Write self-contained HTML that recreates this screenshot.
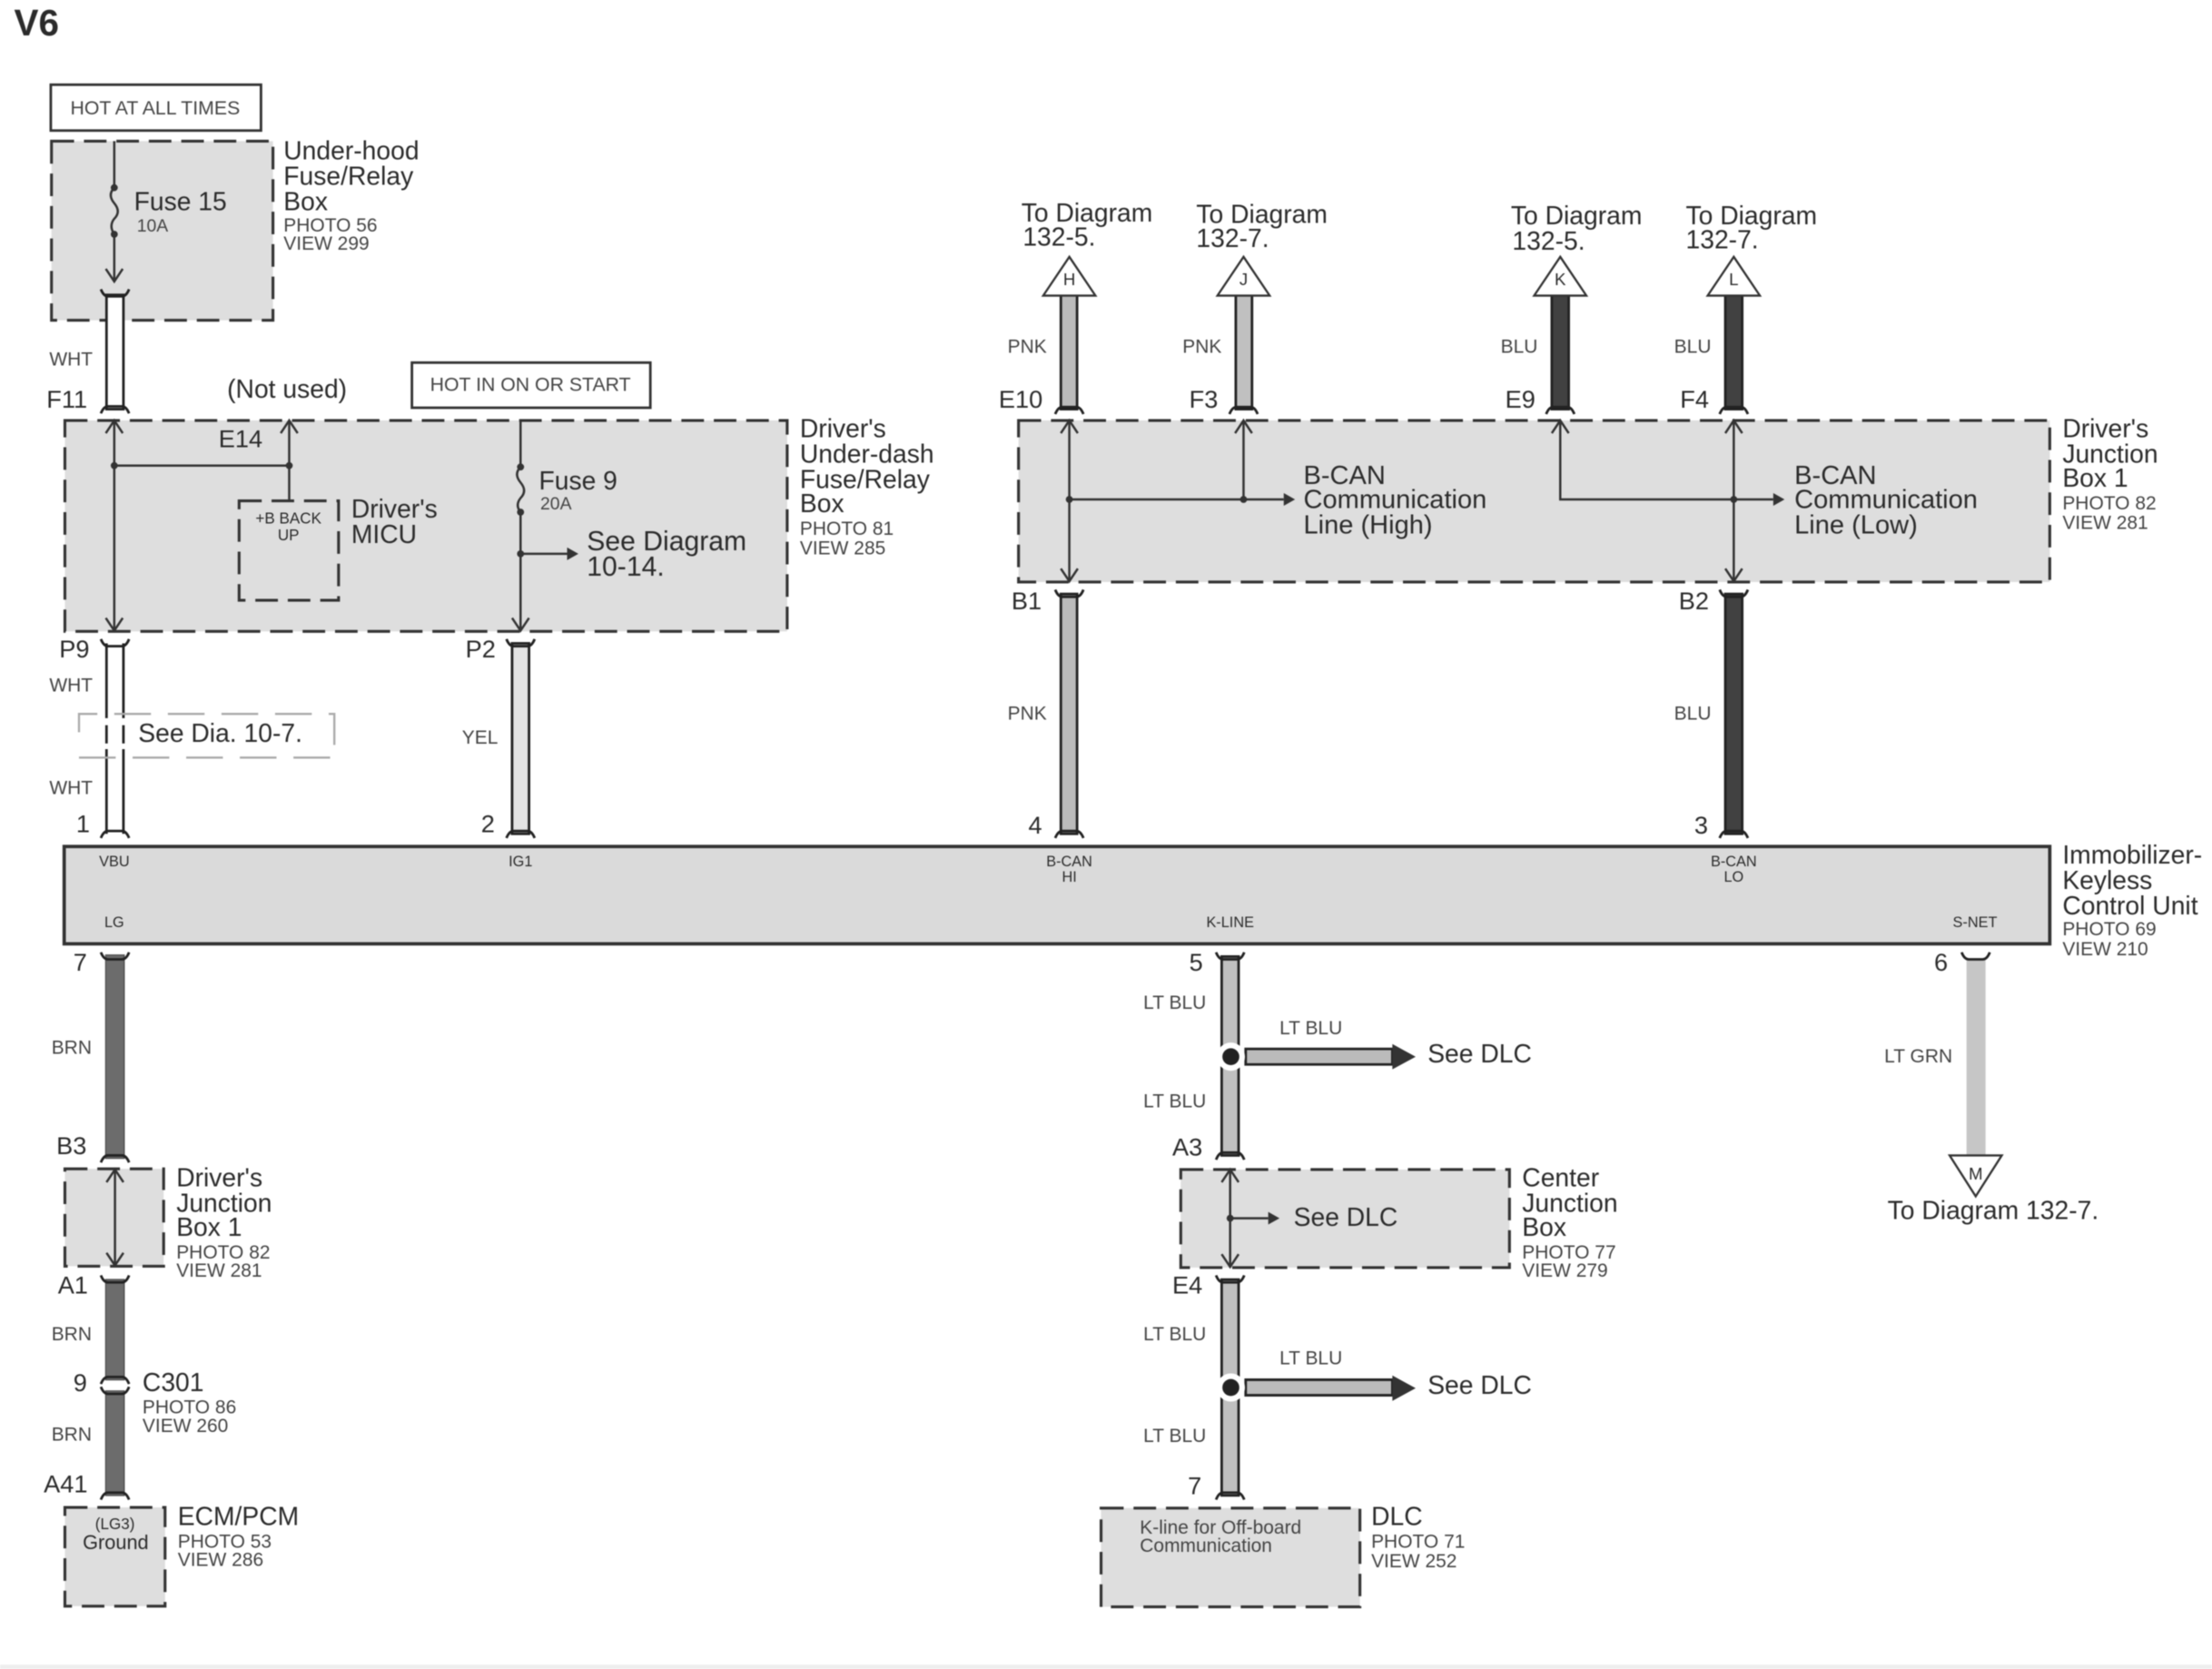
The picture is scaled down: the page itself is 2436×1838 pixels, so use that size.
<!DOCTYPE html>
<html><head><meta charset="utf-8"><style>
html,body{margin:0;padding:0;background:#fff}
svg{display:block;filter:blur(0.5px)}
text{font-family:"Liberation Sans",sans-serif;fill:#2b2b2b}
.l{font-size:18.2px}.s{font-size:13.5px;fill:#444}.w{font-size:13.5px;fill:#444}.p{font-size:10.5px;text-anchor:middle}
.c{font-size:17.5px}.m{text-anchor:middle}.e{text-anchor:end}
.big{font-size:18.7px}
.d{fill:#dedede;stroke:#333;stroke-width:2;stroke-dasharray:16 7}
.ln{stroke:#333;stroke-width:1.6;fill:none}
.wire{stroke:#222;stroke-width:1.8}
.cap{fill:none;stroke:#222;stroke-width:1.8}
</style></head><body>
<svg xmlns="http://www.w3.org/2000/svg" width="2436" height="1838" viewBox="0 0 1568 1183">
<defs>
<path id="ct" class="cap" d="M-10-3Q-8 2-5 2L5 2Q8 2 10-3"/>
<path id="cb" class="cap" d="M-10 3Q-8-2-5-2L5-2Q8-2 10 3"/>
<path id="au" class="ln" d="M-6 9L0 0L6 9"/>
<path id="ad" class="ln" d="M-6-9L0 0L6-9"/>
<path id="ar" d="M-8-4.5L0 0L-8 4.5Z" fill="#333"/>
</defs>
<rect width="1568" height="1183" fill="#fff"/>
<rect x="0" y="1180" width="1568" height="3" fill="#eee"/>

<text x="10" y="25" style="font-size:26px;font-weight:bold">V6</text>

<!-- dashed boxes -->
<rect class="d" x="36.5" y="100" width="157" height="127"/>
<rect class="d" x="46" y="298" width="512" height="149.500"/>
<rect class="d" x="722" y="298" width="731" height="114.500"/>
<rect class="d" x="46" y="828.500" width="70" height="69"/>
<rect class="d" x="46" y="1068.500" width="71" height="70"/>
<rect class="d" x="837" y="829" width="233" height="69.500"/>
<rect class="d" x="780.500" y="1069" width="183.500" height="70"/>
<rect class="d" x="169.500" y="355" width="70.500" height="70.500"/>

<!-- Solid boxes -->
<rect x="36" y="60" width="149" height="32.500" fill="#fff" stroke="#333" stroke-width="1.8"/>
<rect x="292" y="257" width="169" height="32" fill="#fff" stroke="#333" stroke-width="1.8"/>
<rect x="45.500" y="600" width="1407.500" height="69" fill="#dadada" stroke="#333" stroke-width="2.400"/>

<text class="w m" style="font-size:13.7px" x="110" y="81">HOT AT ALL TIMES</text>
<text class="w m" style="font-size:13.7px" x="376" y="277">HOT IN ON OR START</text>

<!-- Under-hood fuse -->
<path class="ln" d="M81 100V133M81 166V199"/>
<path class="ln" d="M81 133q-5 5 0 11q5 6 0 11q-4 5 0 11"/>
<circle cx="81" cy="133" r="2.500" fill="#333"/><circle cx="81" cy="166" r="2.500" fill="#333"/>
<use href="#ad" x="81" y="199.500"/>

<!-- White wires -->
<rect class="wire" x="75.500" y="209" width="12" height="81" fill="#fff"/>
<use href="#ct" x="81.500" y="208"/><use href="#cb" x="81.500" y="290"/>

<rect x="75.500" y="455" width="12" height="137" fill="#fff"/>
<path class="wire" d="M75.500 456V509M87.500 456V509M75.500 514V527M87.500 514V527M75.500 531V591M87.500 531V591" fill="none"/>
<use href="#ct" x="81.500" y="456"/><use href="#cb" x="81.500" y="591"/>
<path d="M56 519V506H237V537H56V530" fill="none" stroke="#aaa" stroke-width="1.500" stroke-dasharray="26 12"/>

<rect class="wire" x="363" y="456" width="12" height="135" fill="#e3e3e3"/>
<use href="#ct" x="369" y="456"/><use href="#cb" x="369" y="591"/>

<!-- Under-dash internals -->
<path class="ln" d="M81 298V447M81 330H205M205 298V355"/>
<use href="#au" x="81" y="298"/><use href="#ad" x="81" y="447"/><use href="#au" x="205" y="298"/>
<circle cx="81" cy="330" r="2.500" fill="#333"/><circle cx="205" cy="330" r="2.500" fill="#333"/>
<path class="ln" d="M369 298V331M369 363V447M369 392.500H402"/>
<path class="ln" d="M369 331q-5 5 0 11q5 6 0 11q-4 5 0 10"/>
<circle cx="369" cy="331" r="2.500" fill="#333"/><circle cx="369" cy="363" r="2.500" fill="#333"/><circle cx="369" cy="392.500" r="2.500" fill="#333"/>
<use href="#ad" x="369" y="447"/><use href="#ar" x="410" y="392.500"/>

<!-- Upper B-CAN wires -->
<rect class="wire" x="752" y="209" width="11.500" height="81" fill="#bbb"/>
<rect class="wire" x="876" y="209" width="11.500" height="81" fill="#c0c0c0"/>
<rect class="wire" x="1100" y="209" width="12" height="81" fill="#414141"/>
<rect class="wire" x="1223" y="209" width="12" height="81" fill="#414141"/>
<use href="#cb" x="758" y="290.500"/><use href="#cb" x="881.500" y="290.500"/><use href="#cb" x="1106" y="290.500"/><use href="#cb" x="1229" y="290.500"/>
<path d="M758 182L776.500 209.500H739.500Z M881.500 182L900 209.500H863Z M1106 182L1124.500 209.500H1087.500Z M1229 182L1247.500 209.500H1210.500Z" fill="#fff" stroke="#333" stroke-width="1.500"/>
<text class="p" style="font-size:12px" x="758" y="202">H</text>
<text class="p" style="font-size:12px" x="881.500" y="202">J</text>
<text class="p" style="font-size:12px" x="1106" y="202">K</text>
<text class="p" style="font-size:12px" x="1229" y="202">L</text>

<!-- Junction 1 internals -->
<path class="ln" d="M758 298V412M758 354H910M881.500 298V354M1106 298V354H1257M1229 298V412"/>
<use href="#au" x="758" y="298"/><use href="#ad" x="758" y="412"/><use href="#au" x="881.500" y="298"/><use href="#au" x="1106" y="298"/><use href="#au" x="1229" y="298"/><use href="#ad" x="1229" y="412"/>
<use href="#ar" x="918" y="354"/><use href="#ar" x="1265" y="354"/>
<circle cx="758" cy="354" r="2.500" fill="#333"/><circle cx="881.500" cy="354" r="2.500" fill="#333"/><circle cx="1229" cy="354" r="2.500" fill="#333"/>

<!-- Lower B-CAN wires -->
<rect class="wire" x="752" y="421" width="11.500" height="170" fill="#bbb"/>
<rect class="wire" x="1223" y="421" width="12" height="170" fill="#414141"/>
<use href="#ct" x="758" y="421"/><use href="#ct" x="1229" y="421"/>
<use href="#cb" x="758" y="591"/><use href="#cb" x="1229" y="591"/>

<!-- BRN chain -->
<rect x="75" y="677" width="13" height="144" fill="#6c6c6c" stroke="#555" stroke-width="1"/>
<use href="#ct" x="81.500" y="678"/><use href="#cb" x="81.500" y="821"/>
<path class="ln" d="M81.500 829V897"/><use href="#au" x="81.500" y="829"/><use href="#ad" x="81.500" y="897"/>
<rect x="75" y="907" width="13" height="71" fill="#6c6c6c" stroke="#555" stroke-width="1"/>
<use href="#ct" x="81.500" y="907"/><use href="#cb" x="81.500" y="978"/>
<rect x="75" y="986" width="13" height="74" fill="#6c6c6c" stroke="#555" stroke-width="1"/>
<use href="#ct" x="81.500" y="986"/><use href="#cb" x="81.500" y="1060"/>

<!-- K-line -->
<rect class="wire" x="866" y="678" width="12" height="141" fill="#c0c0c0"/>
<use href="#ct" x="872" y="678"/><use href="#cb" x="872" y="819"/>
<path d="M883 743.500H987V754.500H883Z" fill="#bbb" stroke="#222" stroke-width="1.800"/>
<path d="M987 740L1003.500 749L987 758Z" fill="#333"/>
<circle cx="872.500" cy="749" r="10" fill="#fff"/><circle cx="872.500" cy="749" r="6" fill="#222"/>
<path class="ln" d="M872 829V898M872 863.500H899"/><use href="#au" x="872" y="829"/><use href="#ad" x="872" y="898"/>
<use href="#ar" x="907" y="863.500"/><circle cx="872" cy="863.500" r="2.500" fill="#333"/>
<rect class="wire" x="866" y="907" width="12" height="153" fill="#c0c0c0"/>
<use href="#ct" x="872" y="907"/><use href="#cb" x="872" y="1060"/>
<path d="M883 978H987V989H883Z" fill="#bbb" stroke="#222" stroke-width="1.800"/>
<path d="M987 975L1003.500 984L987 993Z" fill="#333"/>
<circle cx="872.500" cy="983.500" r="10" fill="#fff"/><circle cx="872.500" cy="983.500" r="6" fill="#222"/>

<!-- S-NET -->
<rect x="1394" y="680" width="13.500" height="139" fill="#c6c6c6"/>
<use href="#ct" x="1400.500" y="678"/>
<path d="M1382 819H1419L1400.500 848Z" fill="#fff" stroke="#333" stroke-width="1.500"/>
<text class="p" style="font-size:12px" x="1400.500" y="836">M</text>

<!-- Labels: device names -->
<text class="l" x="201" y="113">Under-hood</text><text class="l" x="201" y="131">Fuse/Relay</text><text class="l" x="201" y="149">Box</text>
<text class="s" x="201" y="164">PHOTO 56</text><text class="s" x="201" y="177">VIEW 299</text>
<text class="l" x="95" y="149">Fuse 15</text><text class="s" style="font-size:12.5px" x="97" y="164">10A</text>

<text class="w" x="35" y="259">WHT</text>
<text class="c" x="33" y="289">F11</text>
<text class="l" x="161" y="282">(Not used)</text>
<text class="c" x="155" y="317">E14</text>

<text class="l" x="567" y="310">Driver's</text><text class="l" x="567" y="328">Under-dash</text><text class="l" x="567" y="346">Fuse/Relay</text><text class="l" x="567" y="363">Box</text>
<text class="s" x="567" y="379">PHOTO 81</text><text class="s" x="567" y="393">VIEW 285</text>

<text class="p" style="font-size:11px" x="204.500" y="371">+B BACK</text><text class="p" style="font-size:11px" x="204.500" y="383">UP</text>
<text class="l" x="249" y="367">Driver's</text><text class="l" x="249" y="385">MICU</text>
<text class="l" x="382" y="347">Fuse 9</text><text class="s" style="font-size:12.5px" x="383" y="361">20A</text>
<text class="l" style="font-size:19.4px" x="416" y="390">See Diagram</text><text class="l" style="font-size:19.4px" x="416" y="408">10-14.</text>

<text class="c" x="42" y="466">P9</text><text class="w" x="35" y="490">WHT</text>
<text class="l" x="98" y="526">See Dia. 10-7.</text>
<text class="w" x="35" y="563">WHT</text><text class="c" x="54" y="590">1</text>
<text class="c" x="330" y="466">P2</text><text class="w e" x="353" y="527">YEL</text><text class="c" x="341" y="590">2</text>

<text class="l" x="724" y="157">To Diagram</text><text class="l" x="725" y="174">132-5.</text>
<text class="l" x="848" y="158">To Diagram</text><text class="l" x="848" y="175">132-7.</text>
<text class="l" x="1071" y="159">To Diagram</text><text class="l" x="1072" y="177">132-5.</text>
<text class="l" x="1195" y="159">To Diagram</text><text class="l" x="1195" y="176">132-7.</text>

<text class="w e" x="742" y="250">PNK</text><text class="w e" x="866" y="250">PNK</text><text class="w e" x="1090" y="250">BLU</text><text class="w e" x="1213" y="250">BLU</text>
<text class="c" x="708" y="289">E10</text><text class="c" x="843" y="289">F3</text><text class="c" x="1067" y="289">E9</text><text class="c" x="1191" y="289">F4</text>
<text class="c" x="717" y="432">B1</text><text class="c" x="1190" y="432">B2</text>
<text class="w e" x="742" y="510">PNK</text><text class="w e" x="1213" y="510">BLU</text>
<text class="c" x="729" y="591">4</text><text class="c" x="1201" y="591">3</text>

<text class="big" x="924" y="343">B-CAN</text><text class="big" x="924" y="360">Communication</text><text class="big" x="924" y="378">Line (High)</text>
<text class="big" x="1272" y="343">B-CAN</text><text class="big" x="1272" y="360">Communication</text><text class="big" x="1272" y="378">Line (Low)</text>
<text class="l" x="1462" y="310">Driver's</text><text class="l" x="1462" y="328">Junction</text><text class="l" x="1462" y="345">Box 1</text>
<text class="s" x="1462" y="361">PHOTO 82</text><text class="s" x="1462" y="375">VIEW 281</text>

<text class="p" x="81" y="614">VBU</text><text class="p" x="369" y="614">IG1</text>
<text class="p" x="758" y="614">B-CAN</text><text class="p" x="758" y="625">HI</text>
<text class="p" x="1229" y="614">B-CAN</text><text class="p" x="1229" y="625">LO</text>
<text class="p" x="81" y="657">LG</text><text class="p" x="872" y="657">K-LINE</text><text class="p" x="1400" y="657">S-NET</text>
<text class="l" x="1462" y="612">Immobilizer-</text><text class="l" x="1462" y="630">Keyless</text><text class="l" x="1462" y="648">Control Unit</text>
<text class="s" x="1462" y="663">PHOTO 69</text><text class="s" x="1462" y="677">VIEW 210</text>

<text class="c" x="52" y="688">7</text><text class="w e" x="65" y="747">BRN</text><text class="c" x="40" y="818">B3</text>
<text class="l" x="125" y="841">Driver's</text><text class="l" x="125" y="859">Junction</text><text class="l" x="125" y="876">Box 1</text>
<text class="s" x="125" y="892">PHOTO 82</text><text class="s" x="125" y="905">VIEW 281</text>
<text class="c" x="41" y="917">A1</text><text class="w e" x="65" y="950">BRN</text>
<text class="c" x="52" y="986">9</text><text class="l" x="101" y="986">C301</text>
<text class="s" x="101" y="1002">PHOTO 86</text><text class="s" x="101" y="1015">VIEW 260</text>
<text class="w e" x="65" y="1021">BRN</text><text class="c" x="31" y="1058">A41</text>
<text class="p" style="font-size:11px" x="81.500" y="1084">(LG3)</text><text class="m" style="font-size:14px" x="82" y="1098">Ground</text>
<text class="l" x="126" y="1081">ECM/PCM</text><text class="s" x="126" y="1097">PHOTO 53</text><text class="s" x="126" y="1110">VIEW 286</text>

<text class="c" x="843" y="688">5</text><text class="w e" x="855" y="715">LT BLU</text>
<text class="w" x="907" y="733">LT BLU</text><text class="l" x="1012" y="753">See DLC</text>
<text class="w e" x="855" y="785">LT BLU</text><text class="c" x="831" y="819">A3</text>
<text class="l" x="917" y="869">See DLC</text>
<text class="l" x="1079" y="841">Center</text><text class="l" x="1079" y="859">Junction</text><text class="l" x="1079" y="876">Box</text>
<text class="s" x="1079" y="892">PHOTO 77</text><text class="s" x="1079" y="905">VIEW 279</text>
<text class="c" x="831" y="917">E4</text><text class="w e" x="855" y="950">LT BLU</text>
<text class="w" x="907" y="967">LT BLU</text><text class="l" x="1012" y="988">See DLC</text>
<text class="w e" x="855" y="1022">LT BLU</text><text class="c" x="842" y="1059">7</text>
<text class="w" x="808" y="1087">K-line for Off-board</text><text class="w" x="808" y="1100">Communication</text>
<text class="l" x="972" y="1081">DLC</text><text class="s" x="972" y="1097">PHOTO 71</text><text class="s" x="972" y="1111">VIEW 252</text>

<text class="c" x="1371" y="688">6</text><text class="w e" x="1384" y="753">LT GRN</text>
<text class="l" x="1338" y="864">To Diagram 132-7.</text>
</svg>
</body></html>
